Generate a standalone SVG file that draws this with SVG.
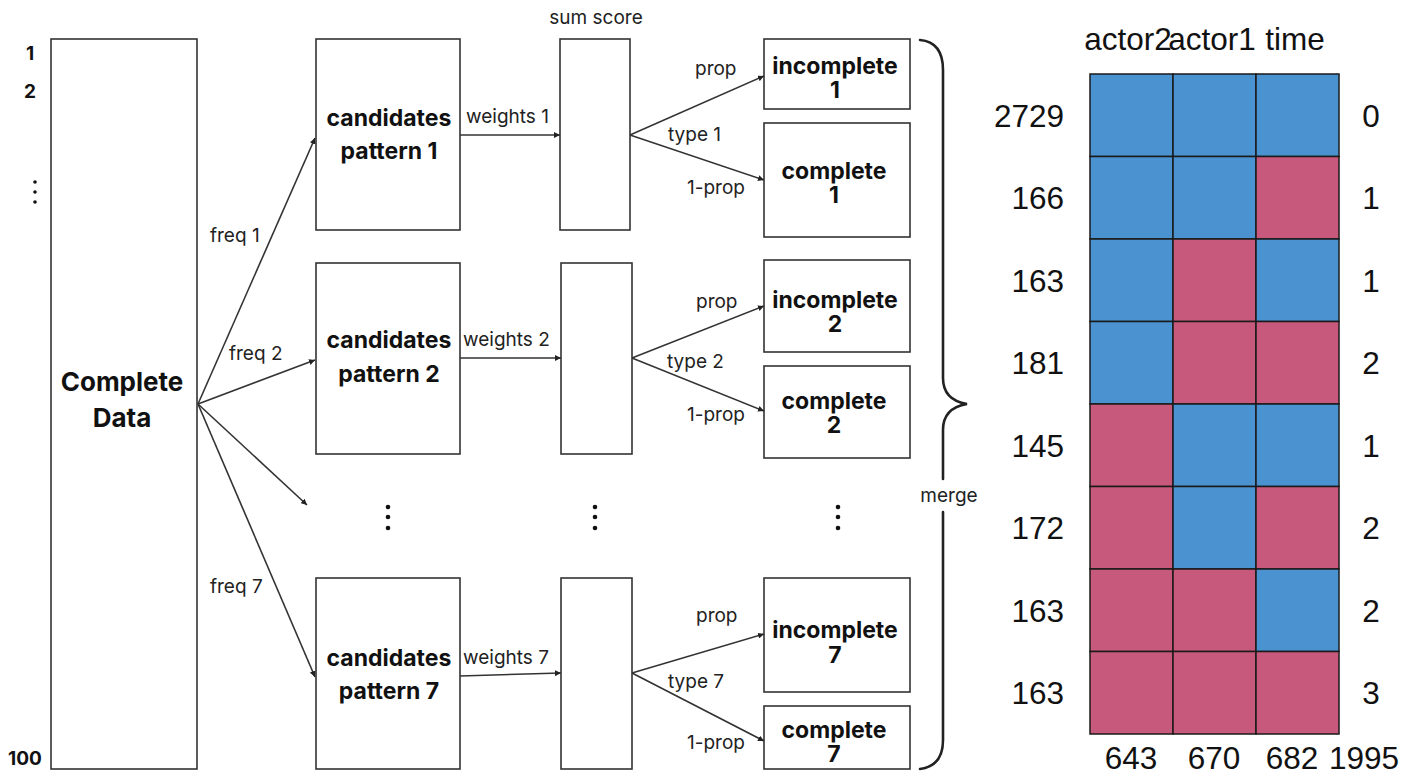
<svg xmlns="http://www.w3.org/2000/svg" width="1417" height="776" viewBox="0 0 1417 776">
  <style>
    .box { fill: #fff; stroke: #333; stroke-width: 1.6; }
    .edge { fill: none; stroke: #333; stroke-width: 1.6; }
    .brace { fill: none; stroke: #222; stroke-width: 2.6; stroke-linecap: round; }
    .bold { font-family: Inter, "Noto Sans", sans-serif; font-weight: 700; fill: #111; text-anchor: middle; }
    .big { font-size: 23px; }
    .small { font-size: 19px; }
    .lbl { font-family: Inter, "Noto Sans", sans-serif; font-size: 19px; fill: #222; }
    .num { font-family: "Liberation Sans", Arial, sans-serif; font-size: 31.5px; fill: #111; }
    .cb { fill: #4A93D0; stroke: #1a1a1a; stroke-width: 1.5; }
    .cp { fill: #C75A7C; stroke: #1a1a1a; stroke-width: 1.5; }
    .dot { fill: #111; }
  </style>
  <defs>
    <marker id="arrow" viewBox="0 0 10 10" refX="10" refY="5" markerWidth="6" markerHeight="6" orient="auto" markerUnits="userSpaceOnUse">
      <path d="M0,0 L10,5 L0,10 z" fill="#222"/>
    </marker>
  </defs>
  <rect width="1417" height="776" fill="#fff"/>

  <!-- row index labels on the data block -->
  <g id="row-index">
    <text class="bold small" x="30" y="60">1</text>
    <text class="bold small" x="30" y="98">2</text>
    <circle class="dot" cx="35" cy="182" r="1.8"/>
    <circle class="dot" cx="35" cy="192" r="1.8"/>
    <circle class="dot" cx="35" cy="202" r="1.8"/>
    <text class="bold small" x="25" y="765">100</text>
  </g>

  <g id="complete-data">
    <rect class="box" x="51" y="39" width="146" height="730"/>
    <text class="bold" x="122" y="391" font-size="26">Complete</text>
    <text class="bold" x="122" y="427" font-size="26">Data</text>
  </g>

  <!-- candidate pattern boxes -->
  <g id="candidates-1">
    <rect class="box" x="316" y="39" width="144" height="191"/>
    <text class="bold big" x="389" y="126">candidates</text>
    <text class="bold big" x="389" y="159">pattern 1</text>
  </g>
  <g id="candidates-2">
    <rect class="box" x="316" y="263" width="144" height="191"/>
    <text class="bold big" x="389" y="348">candidates</text>
    <text class="bold big" x="389" y="382">pattern 2</text>
  </g>
  <g id="candidates-7">
    <rect class="box" x="316" y="578" width="144" height="191"/>
    <text class="bold big" x="389" y="666">candidates</text>
    <text class="bold big" x="389" y="699">pattern 7</text>
  </g>

  <!-- sum score boxes -->
  <text class="lbl" x="596" y="24" text-anchor="middle">sum score</text>
  <g id="sum-1"><rect class="box" x="560" y="39" width="70" height="191"/></g>
  <g id="sum-2"><rect class="box" x="561" y="263" width="71" height="191"/></g>
  <g id="sum-7"><rect class="box" x="561" y="578" width="71" height="191"/></g>

  <!-- output boxes -->
  <g id="incomplete-1">
    <rect class="box" x="764" y="39" width="146" height="70"/>
    <text class="bold big" x="835" y="74">incomplete</text>
    <text class="bold big" x="835" y="98">1</text>
  </g>
  <g id="complete-1">
    <rect class="box" x="764" y="123" width="146" height="114"/>
    <text class="bold big" x="834" y="179">complete</text>
    <text class="bold big" x="834" y="203">1</text>
  </g>
  <g id="incomplete-2">
    <rect class="box" x="764" y="260" width="146" height="92"/>
    <text class="bold big" x="835" y="308">incomplete</text>
    <text class="bold big" x="835" y="332">2</text>
  </g>
  <g id="complete-2">
    <rect class="box" x="764" y="366" width="146" height="92"/>
    <text class="bold big" x="834" y="409">complete</text>
    <text class="bold big" x="834" y="433">2</text>
  </g>
  <g id="incomplete-7">
    <rect class="box" x="764" y="578" width="146" height="114"/>
    <text class="bold big" x="835" y="638">incomplete</text>
    <text class="bold big" x="835" y="663">7</text>
  </g>
  <g id="complete-7">
    <rect class="box" x="764" y="706" width="146" height="63"/>
    <text class="bold big" x="834" y="738">complete</text>
    <text class="bold big" x="834" y="762">7</text>
  </g>

  <!-- elision marks between pattern 2 and pattern 7 -->
  <g id="ellipsis">
    <circle class="dot" cx="388" cy="507" r="2.3"/>
    <circle class="dot" cx="388" cy="517" r="2.3"/>
    <circle class="dot" cx="388" cy="528" r="2.3"/>
    <circle class="dot" cx="595" cy="507" r="2.3"/>
    <circle class="dot" cx="595" cy="517" r="2.3"/>
    <circle class="dot" cx="595" cy="528" r="2.3"/>
    <circle class="dot" cx="838" cy="507" r="2.3"/>
    <circle class="dot" cx="838" cy="517" r="2.3"/>
    <circle class="dot" cx="838" cy="528" r="2.3"/>
  </g>

  <g id="connectors">
    <!-- frequency split -->
    <line class="edge" x1="198" y1="404" x2="315" y2="138" marker-end="url(#arrow)"/>
    <line class="edge" x1="198" y1="404" x2="315" y2="360" marker-end="url(#arrow)"/>
    <line class="edge" x1="198" y1="404" x2="307" y2="505" marker-end="url(#arrow)"/>
    <line class="edge" x1="198" y1="404" x2="315" y2="677" marker-end="url(#arrow)"/>
    <text class="lbl" x="210" y="242">freq 1</text>
    <text class="lbl" x="229" y="360">freq 2</text>
    <text class="lbl" x="210" y="593">freq 7</text>

    <!-- weights -->
    <line class="edge" x1="460" y1="135" x2="560" y2="135" marker-end="url(#arrow)"/>
    <line class="edge" x1="460" y1="358" x2="561" y2="358" marker-end="url(#arrow)"/>
    <line class="edge" x1="460" y1="676" x2="561" y2="673" marker-end="url(#arrow)"/>
    <text class="lbl" x="466" y="123">weights 1</text>
    <text class="lbl" x="463" y="346">weights 2</text>
    <text class="lbl" x="463" y="664">weights 7</text>

    <!-- type split -->
    <line class="edge" x1="630" y1="135" x2="764" y2="76" marker-end="url(#arrow)"/>
    <line class="edge" x1="630" y1="135" x2="764" y2="180" marker-end="url(#arrow)"/>
    <line class="edge" x1="632" y1="358" x2="764" y2="306" marker-end="url(#arrow)"/>
    <line class="edge" x1="632" y1="358" x2="764" y2="411" marker-end="url(#arrow)"/>
    <line class="edge" x1="632" y1="673" x2="764" y2="634" marker-end="url(#arrow)"/>
    <line class="edge" x1="632" y1="673" x2="764" y2="741" marker-end="url(#arrow)"/>
    <text class="lbl" x="695" y="75">prop</text>
    <text class="lbl" x="668" y="141">type 1</text>
    <text class="lbl" x="687" y="194">1-prop</text>
    <text class="lbl" x="696" y="308">prop</text>
    <text class="lbl" x="667" y="368">type 2</text>
    <text class="lbl" x="687" y="421">1-prop</text>
    <text class="lbl" x="696" y="622">prop</text>
    <text class="lbl" x="668" y="688">type 7</text>
    <text class="lbl" x="687" y="749">1-prop</text>

    <!-- merge brace -->
    <path class="brace" d="M920,40 Q943,42 943,70 L943,378 Q943,400 967,404 Q943,408 943,430 L943,479"/>
    <path class="brace" d="M943,512 L943,740 Q943,766 920,769"/>
    <text class="lbl" x="949" y="502" text-anchor="middle">merge</text>
  </g>

  <!-- pattern matrix -->
  <g id="pattern-matrix">
    <text class="num" x="1128" y="50" text-anchor="middle">actor2</text>
    <text class="num" x="1212" y="50" text-anchor="middle">actor1</text>
    <text class="num" x="1295" y="50" text-anchor="middle">time</text>

    <rect class="cb" x="1090" y="74" width="83" height="82.5"/>
    <rect class="cb" x="1173" y="74" width="83" height="82.5"/>
    <rect class="cb" x="1256" y="74" width="83" height="82.5"/>

    <rect class="cb" x="1090" y="156.5" width="83" height="82.5"/>
    <rect class="cb" x="1173" y="156.5" width="83" height="82.5"/>
    <rect class="cp" x="1256" y="156.5" width="83" height="82.5"/>

    <rect class="cb" x="1090" y="239" width="83" height="82.5"/>
    <rect class="cp" x="1173" y="239" width="83" height="82.5"/>
    <rect class="cb" x="1256" y="239" width="83" height="82.5"/>

    <rect class="cb" x="1090" y="321.5" width="83" height="82.5"/>
    <rect class="cp" x="1173" y="321.5" width="83" height="82.5"/>
    <rect class="cp" x="1256" y="321.5" width="83" height="82.5"/>

    <rect class="cp" x="1090" y="404" width="83" height="82.5"/>
    <rect class="cb" x="1173" y="404" width="83" height="82.5"/>
    <rect class="cb" x="1256" y="404" width="83" height="82.5"/>

    <rect class="cp" x="1090" y="486.5" width="83" height="82.5"/>
    <rect class="cb" x="1173" y="486.5" width="83" height="82.5"/>
    <rect class="cp" x="1256" y="486.5" width="83" height="82.5"/>

    <rect class="cp" x="1090" y="569" width="83" height="82.5"/>
    <rect class="cp" x="1173" y="569" width="83" height="82.5"/>
    <rect class="cb" x="1256" y="569" width="83" height="82.5"/>

    <rect class="cp" x="1090" y="651.5" width="83" height="82.5"/>
    <rect class="cp" x="1173" y="651.5" width="83" height="82.5"/>
    <rect class="cp" x="1256" y="651.5" width="83" height="82.5"/>

    <g text-anchor="end">
      <text class="num" x="1064" y="127">2729</text>
      <text class="num" x="1064" y="209">166</text>
      <text class="num" x="1064" y="292">163</text>
      <text class="num" x="1064" y="374">181</text>
      <text class="num" x="1064" y="457">145</text>
      <text class="num" x="1064" y="539">172</text>
      <text class="num" x="1064" y="622">163</text>
      <text class="num" x="1064" y="704">163</text>
    </g>
    <g text-anchor="middle">
      <text class="num" x="1371" y="127">0</text>
      <text class="num" x="1371" y="209">1</text>
      <text class="num" x="1371" y="292">1</text>
      <text class="num" x="1371" y="374">2</text>
      <text class="num" x="1371" y="457">1</text>
      <text class="num" x="1371" y="539">2</text>
      <text class="num" x="1371" y="622">2</text>
      <text class="num" x="1371" y="704">3</text>
      <text class="num" x="1131" y="769">643</text>
      <text class="num" x="1214" y="769">670</text>
      <text class="num" x="1292" y="769">682</text>
      <text class="num" x="1364" y="769">1995</text>
    </g>
  </g>
</svg>
